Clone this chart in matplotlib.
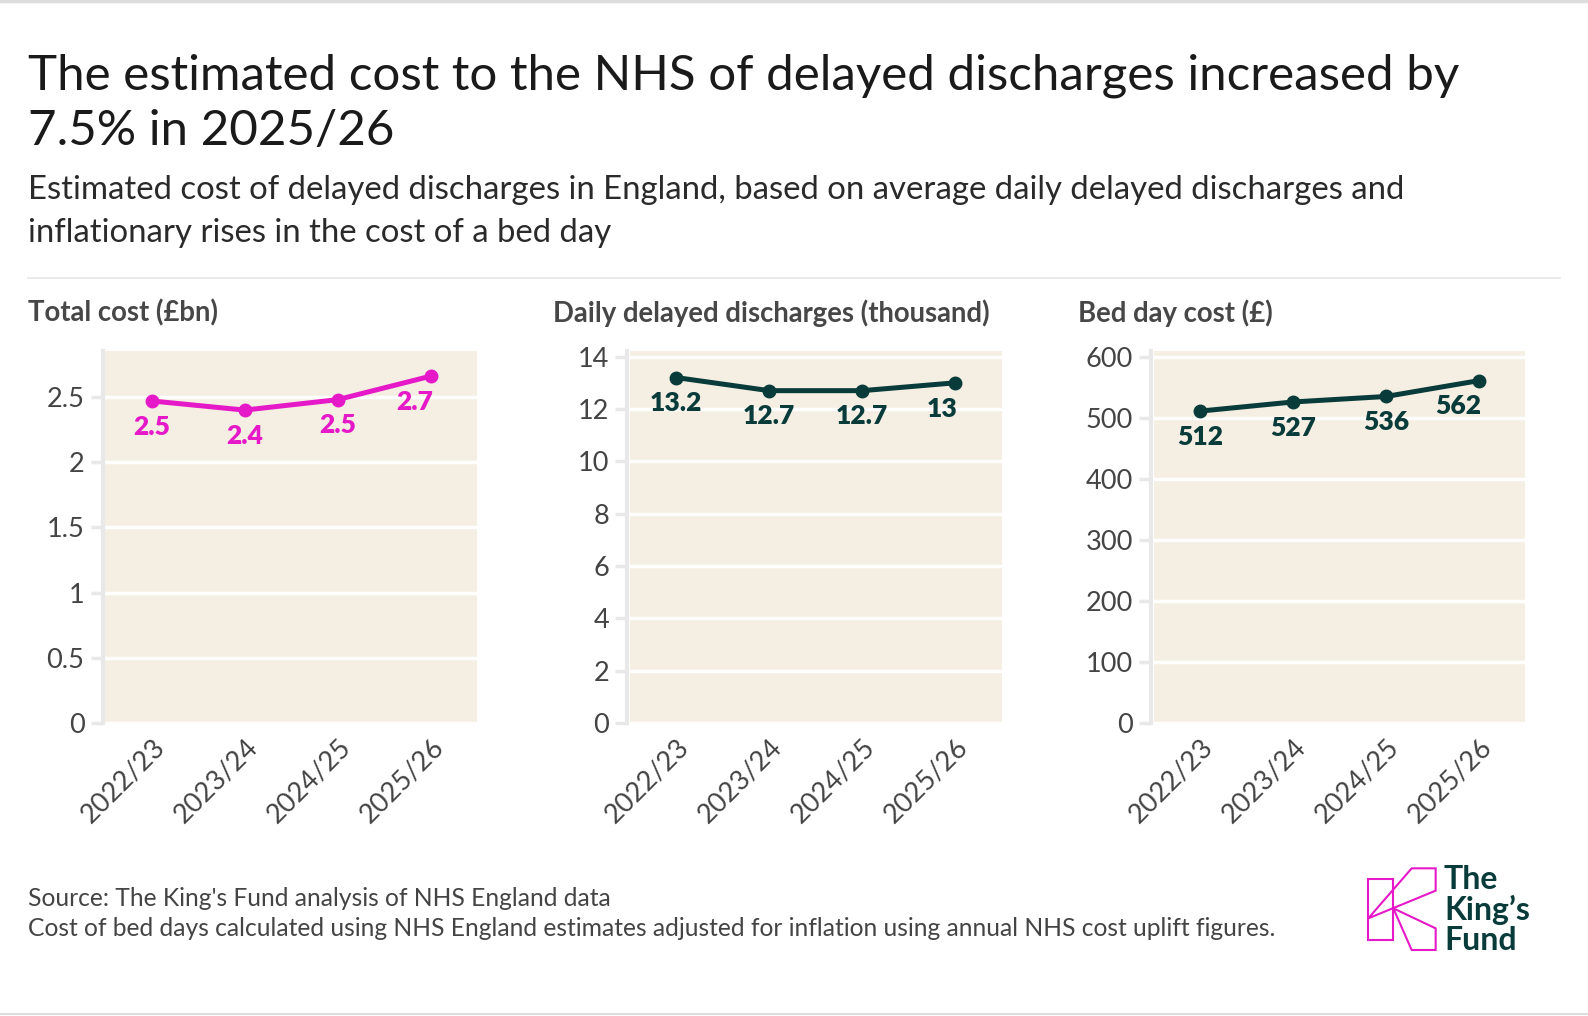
import matplotlib
matplotlib.use("Agg")
import matplotlib.pyplot as plt
from matplotlib.lines import Line2D
from matplotlib.patches import Polygon

plt.rcParams['font.family'] = ['Lato', 'DejaVu Sans']

years = ["2022/23", "2023/24", "2024/25", "2025/26"]
total_cost = [2.47, 2.40, 2.48, 2.66]
daily_delays = [13.2, 12.7, 12.7, 13.0]
bed_day_cost = [512, 527, 536, 562]

panel_titles = ["Total cost (£bn)", "Daily delayed discharges (thousand)", "Bed day cost (£)"]
y_ticks = [[0, 0.5, 1, 1.5, 2, 2.5], [0, 2, 4, 6, 8, 10, 12, 14], [0, 100, 200, 300, 400, 500, 600]]
y_tick_labels = [["0", "0.5", "1", "1.5", "2", "2.5"],
                 ["0", "2", "4", "6", "8", "10", "12", "14"],
                 ["0", "100", "200", "300", "400", "500", "600"]]
y_tops = [2.85, 14.2, 610]

MAGENTA = "#E619C8"
DKGREEN = "#083B3A"
BEIGE = "#F4EEE3"

W, H = 1588, 1016
fig = plt.figure(figsize=(W / 100, H / 100), dpi=100)

def fx(px):
    return px / W

def fy(py):
    return 1 - py / H

# top and bottom rules
fig.add_artist(Line2D([0, 1], [fy(1), fy(1)], color="#dddddd", lw=2.5))
fig.add_artist(Line2D([0, 1], [fy(1014), fy(1014)], color="#dddddd", lw=1.5))

# title and subtitle
fig.text(fx(28), fy(54), "The estimated cost to the NHS of delayed discharges increased by\n7.5% in 2025/26",
         fontsize=35.5, color="#1a1a1a", va="top", ha="left", linespacing=1.3)
fig.text(fx(28), fy(175), "Estimated cost of delayed discharges in England, based on average daily delayed discharges and\ninflationary rises in the cost of a bed day",
         fontsize=23.7, color="#2a2a2a", va="top", ha="left", linespacing=1.56)
fig.add_artist(Line2D([fx(28), fx(1560)], [fy(278), fy(278)], color="#e6e6e6", lw=1.2))

series = [total_cost, daily_delays, bed_day_cost]
colors = [MAGENTA, DKGREEN, DKGREEN]
lefts = [105.3, 629.9, 1153.5]
title_x = [28.4, 553, 1077.6]

def fmt(v, i):
    if i == 0:
        return f"{round(v, 1):.1f}"
    if i == 1:
        s = f"{v:.1f}"
        return s[:-2] if s.endswith(".0") else s
    return f"{v:.0f}"

for i in range(3):
    ax = fig.add_axes([fx(lefts[i]), fy(723.1), fx(371.7), 371.7 / H])
    ax.set_facecolor(BEIGE)
    x = list(range(len(years)))
    ax.plot(x, series[i], color=colors[i], lw=3.6, marker="o", ms=9, zorder=3, clip_on=False)
    ax.set_xlim(-0.5, 3.5)
    ax.set_ylim(0, y_tops[i])
    ax.set_yticks(y_ticks[i])
    ax.set_yticklabels(y_tick_labels[i])
    ax.set_xticks(x)
    ax.set_xticklabels(years, rotation=45, ha="right", rotation_mode="anchor")
    ax.grid(axis="y", color="white", lw=2.5)
    ax.set_axisbelow(True)
    for s in ["top", "right", "bottom"]:
        ax.spines[s].set_visible(False)
    ax.spines["left"].set_color("#e8e8e8")
    ax.spines["left"].set_linewidth(3)
    ax.spines["left"].set_position(("outward", 2))
    ax.tick_params(axis="y", length=9, width=2.5, color="#e8e8e8", labelsize=19.5, labelcolor="#444444", pad=4)
    ax.tick_params(axis="x", length=0, labelsize=19.5, labelcolor="#444444", pad=8)
    for j, v in enumerate(series[i]):
        ha = "right" if j == len(series[i]) - 1 else "center"
        dx = 2 if ha == "right" else 0
        ax.annotate(fmt(v, i), (j, v), xytext=(dx, -18.5), textcoords="offset points",
                    ha=ha, va="center", fontsize=19, fontweight="heavy", color=colors[i])
    fig.text(fx(title_x[i]), fy(313), panel_titles[i], fontsize=19.8, fontweight="bold",
             color="#474747", va="center", ha="left")

# source
fig.text(fx(28), fy(899), "Source: The King's Fund analysis of NHS England data", fontsize=17.7,
         color="#444444", va="center", ha="left")
fig.text(fx(28), fy(929), "Cost of bed days calculated using NHS England estimates adjusted for inflation using annual NHS cost uplift figures.",
         fontsize=17.7, color="#444444", va="center", ha="left")

# logo
def lp(px, py):
    return (fx(1340 + px / 3), fy(840 + py / 3))

for pts in ([(85, 118), (160, 118), (160, 300), (85, 300)],
            [(85, 235), (215, 85), (287, 85), (287, 152)],
            [(160, 205), (287, 265), (287, 330), (215, 330)]):
    fig.add_artist(Polygon([lp(a, b) for a, b in pts], closed=True, fill=False,
                           edgecolor=MAGENTA, lw=1.5, transform=fig.transFigure))
fig.text(fx(1444), fy(865), "The\nKing’s\nFund", fontsize=23, fontweight="bold", color=DKGREEN,
         va="top", ha="left", linespacing=1.04)

fig.savefig("out.png", dpi=100, facecolor="white")
